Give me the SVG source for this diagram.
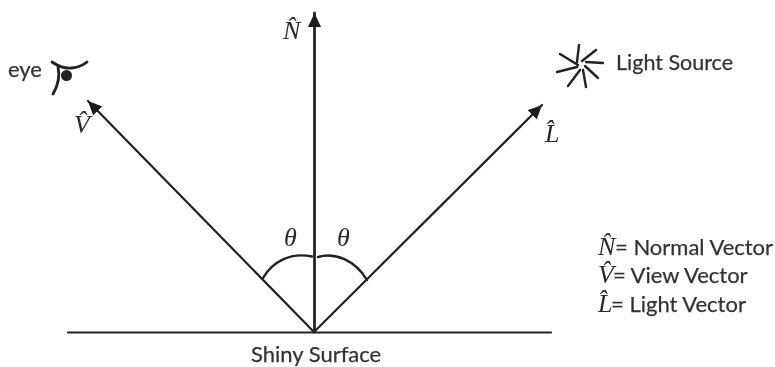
<svg xmlns="http://www.w3.org/2000/svg" width="775" height="367" viewBox="0 0 775 367">
<style>
g{filter:url(#soft)}
.t{font-family:"Lato","Liberation Sans",sans-serif;font-size:22px;fill:#333;stroke:#333;stroke-width:.25px}
.s{font-size:21.500px}
.m{font-family:"Liberation Serif",serif;font-style:italic;font-size:26px;fill:#2a2a2a}
.c{fill:none;stroke:#222;stroke-linecap:round}
</style>
<defs>
<filter id="soft" x="-5%" y="-5%" width="110%" height="110%" filterUnits="objectBoundingBox"><feGaussianBlur stdDeviation="0.450"/></filter>
<marker id="ah" markerUnits="userSpaceOnUse" markerWidth="16" markerHeight="14" refX="14" refY="6.5" orient="auto"><path d="M0 0L14 6.5L0 13Z" fill="#1c1c1c"/></marker>
</defs>
<rect width="775" height="367" fill="#fff"/>
<g id="connectors">
<path class="c" stroke-width="2.200" d="M68 332.500H551"/>
<path class="c" stroke-width="2.800" d="M314.500 332V13" marker-end="url(#ah)"/>
<path class="c" stroke-width="2.200" d="M314 332L88 101" marker-end="url(#ah)"/>
<path class="c" stroke-width="2.200" d="M314 332L542 105" marker-end="url(#ah)"/>
<path class="c" stroke-width="2.400" d="M263 278C272 262 290 252 312 256.500"/>
<path class="c" stroke-width="2.400" d="M318 257C335 252 355 260 367 280"/>
</g>
<g id="eye">
<text class="t" x="8" y="77">eye</text>
<path class="c" stroke-width="2.800" d="M52 62Q62 69 72 68Q81 67 87 62M58 67Q61 80 53 94"/>
<circle cx="66.500" cy="75.500" r="5.500" fill="#222"/>
</g>
<g id="light-source">
<path class="c" stroke-width="2.400" d="M579 45L577 62M596 50L582 61M603 63L586 62M598 78L585 66M586 87L583 70M568 86L580 70M557 72L577 67M560 54L578 65"/>
<text class="t s" x="616" y="70">Light Source</text>
</g>
<g id="normal-label"><text class="m" x="283" y="39">N̂</text></g>
<g id="view-label"><text class="m" x="74" y="133">V̂</text></g>
<g id="light-label"><text class="m" x="545" y="142">L̂</text></g>
<g id="theta-left"><text class="m" x="284" y="246">θ</text></g>
<g id="theta-right"><text class="m" x="337" y="246">θ</text></g>
<g id="surface-label"><text class="t" x="251" y="362">Shiny Surface</text></g>
<g id="legend">
<text class="m" x="598" y="255">N̂</text><text class="t" x="615" y="255">= Normal Vector</text>
<text class="m" x="598" y="283">V̂</text><text class="t" x="613" y="283">= View Vector</text>
<text class="m" x="598" y="312">L̂</text><text class="t" x="611" y="312">= Light Vector</text>
</g>
</svg>
